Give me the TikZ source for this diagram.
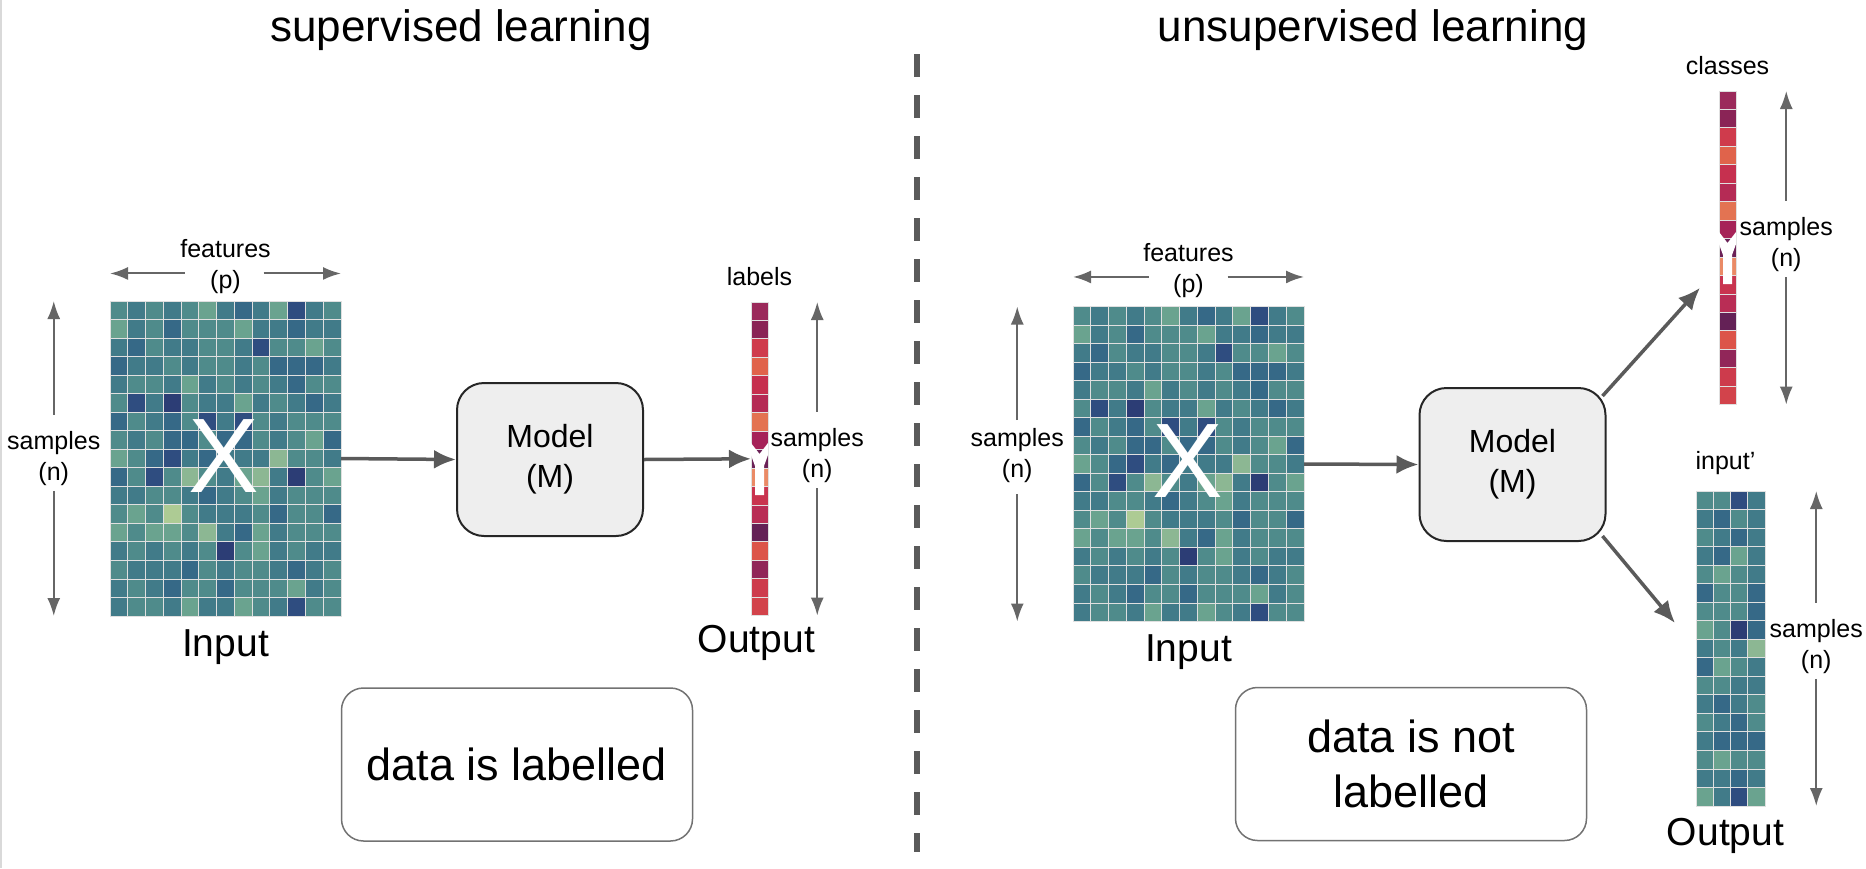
\documentclass[tikz,border=0pt]{standalone}
\usepackage{fontspec}
\setmainfont{Liberation Sans}
\usepackage{xcolor}
\usetikzlibrary{arrows.meta,positioning}

\definecolor{boxgray}{HTML}{EEEEEE}
\definecolor{edgegray}{HTML}{727272}
\definecolor{arrowgray}{HTML}{5A5A5A}
\definecolor{dimgray}{HTML}{666666}
\definecolor{heat0}{HTML}{ADCB94}
\definecolor{heat1}{HTML}{8CB793}
\definecolor{heat2}{HTML}{6AA38F}
\definecolor{heat3}{HTML}{4F8B8B}
\definecolor{heat4}{HTML}{417B89}
\definecolor{heat5}{HTML}{366987}
\definecolor{heat6}{HTML}{2F4D80}
\definecolor{heat7}{HTML}{2C3D75}

% feature matrix X (17 samples x 13 features), colour levels
\def\heatdata{{3,4,3,4,3,2,4,5,4,2,6,4,3},{2,4,3,5,3,3,3,2,4,4,5,4,4},
  {4,5,3,4,4,3,3,4,6,3,3,2,3},{5,4,4,3,4,3,3,4,3,5,5,5,4},
  {4,3,3,4,2,4,3,4,3,4,5,3,3},{3,6,4,7,3,4,4,2,4,3,4,5,4},
  {5,3,4,5,3,6,4,6,3,4,3,3,3},{3,4,3,5,5,3,5,5,3,4,3,2,5},
  {2,3,5,6,4,5,4,4,4,1,3,3,4},{5,3,6,3,1,3,4,2,1,4,7,3,2},
  {4,4,3,3,4,5,4,3,2,4,3,3,3},{3,2,3,0,3,4,4,4,3,5,3,3,5},
  {2,3,2,2,3,1,4,5,2,4,3,3,3},{4,3,4,3,4,3,7,3,2,4,3,4,4},
  {3,4,4,4,5,3,4,3,3,4,5,4,3},{4,3,4,5,3,3,5,3,3,3,2,4,3},
  {4,3,3,4,2,4,4,2,3,4,6,3,3}}
% reconstructed input' (17 samples x 4)
\def\outdata{{3,3,6,4},{4,5,3,4},{3,4,5,4},{4,5,2,4},{3,2,3,4},{5,3,3,5},
  {3,3,3,5},{2,3,7,5},{4,3,4,1},{5,2,3,4},{3,3,4,4},{4,5,4,3},{3,4,5,3},
  {4,5,5,5},{3,2,3,3},{4,4,5,4},{2,4,6,2}}
% label / class colours
\def\labcolors{9B2A5B,8A2456,CF3B4C,E0634B,C6304F,B52B55,E37352,A62358,6B2157,
  EA8A66,C9344F,B92D55,642156,DC5449,912659,CD3B4C,D2434B}

\begin{document}
\begin{tikzpicture}[
  x=1pt, y=-1pt,
  font=\fontsize{25}{31}\selectfont,
  headtxt/.style={anchor=base,inner sep=0pt,font=\fontsize{44}{50}\selectfont},
  captxt/.style={inner sep=0pt,font=\fontsize{39}{44}\selectfont},
  dimtxt/.style={inner sep=0pt,align=center},
  bigx/.style={inner sep=0pt,text=white,font=\fontsize{106}{106}\selectfont},
  gridbox/.style={inner sep=0pt,outer sep=0pt},
  modelbox/.style={draw=black!85,line width=2pt,fill=boxgray,rounded corners=27pt,
    minimum width=186pt,minimum height=153pt,align=center,font=\fontsize{32}{40}\selectfont},
  notebox/.style={draw=edgegray,line width=1.5pt,rounded corners=22pt,
    minimum width=351pt,minimum height=153pt,align=center,font=\fontsize{45}{55}\selectfont},
  hcell/.style={draw=white!88!black,line width=0.9pt},
  flow/.style={-{Latex[length=22pt,width=19pt]},line width=3.5pt,draw=arrowgray},
  dim/.style={-{Latex[length=18pt,width=13pt]},line width=2pt,draw=dimgray},
  divider/.style={draw=arrowgray,line width=6pt,dash pattern=on 23pt off 18pt}
]
\useasboundingbox (0,0) rectangle (1866,868);
\draw[gray!30,line width=2pt] (1,0) -- (1,868);

% --- Titles and divider ---
\node[headtxt] (supT) at (461,41) {supervised learning};
\node[headtxt] (unsT) at (1373,41) {unsupervised learning};
\draw[divider] (917,54) -- (917,852);

% --- Data blocks ---
\node[gridbox,minimum width=231pt,minimum height=315pt] (inL) at (225.5,458.5) {};
\node[gridbox,minimum width=231pt,minimum height=315pt] (inR) at (1188.5,464) {};
\node[gridbox,minimum width=17pt,minimum height=313.6pt] (labL) at (759.5,458.8) {};
\node[gridbox,minimum width=17pt,minimum height=313.6pt] (clsR) at (1727.5,247.8) {};
\node[gridbox,minimum width=69pt,minimum height=315pt] (outR) at (1730.5,648.5) {};

\foreach \hm in {inL,inR}{
  \begin{scope}[shift={(\hm.north west)}]
    \foreach \row [count=\r from 0] in \heatdata
      \foreach \v [count=\c from 0] in \row
        \filldraw[fill=heat\v,hcell] (\c*17.77,\r*18.53) rectangle ++(17.77,18.53);
  \end{scope}
}
\begin{scope}[shift={(outR.north west)}]
  \foreach \row [count=\r from 0] in \outdata
    \foreach \v [count=\c from 0] in \row
      \filldraw[fill=heat\v,hcell] (\c*17.25,\r*18.53) rectangle ++(17.25,18.53);
\end{scope}
\foreach \col in {labL,clsR}{
  \begin{scope}[shift={(\col.north west)}]
    \foreach \hex [count=\i from 0] in \labcolors {
      \definecolor{labc}{HTML}{\hex}
      \filldraw[fill=labc,hcell] (0,\i*18.45) rectangle ++(17,18.45);
    }
    % notch in the strip
    \fill[white] (0,141) -- (8.5,152) -- (17,141) -- (17,153) -- (13,164)
      -- (13,193) -- (4,193) -- (4,164) -- (0,153) -- cycle;
  \end{scope}
}

\node[bigx] (xL) at (224,456) {X};
\node[bigx] (xR) at (1187.5,461) {X};

% --- Captions ---
\node[captxt,below=13pt of inL] (inLcap) {Input};
\node[captxt,below=13pt of inR] (inRcap) {Input};
\node[captxt,below=9pt of labL,xshift=-3pt] (labLcap) {Output};
\node[captxt,below=12pt of outR,xshift=-5pt] (outRcap) {Output};
\node[dimtxt,above=16pt of labL] (labT) {labels};
\node[dimtxt,above=16pt of clsR] (clsT) {classes};
\node[dimtxt,above=16pt of outR,xshift=-5pt] (outT) {input’};

% --- Dimension arrows ---
\node[dimtxt,above=6.7pt of inL] (featL) {features\\(p)};
\node[dimtxt,above=9pt of inR] (featR) {features\\(p)};
\coordinate (fL) at ([yshift=-6.5pt]featL.center);
\coordinate (fR) at ([yshift=-6.8pt]featR.center);
\draw[dim] ([xshift=-41pt]fL) -- (fL -| inL.west);
\draw[dim] ([xshift=38pt]fL) -- (fL -| inL.east);
\draw[dim] ([xshift=-40pt]fR) -- (fR -| inR.west);
\draw[dim] ([xshift=39pt]fR) -- (fR -| inR.east);

\node[dimtxt,left=9.5pt of inL] (smpL) {samples\\(n)};
\node[dimtxt,left=9pt of inR,yshift=8.6pt] (smpR) {samples\\(n)};
\node[dimtxt,right=2.5pt of labL,yshift=3pt] (smpLab) {samples\\(n)};
\node[dimtxt,right=3.5pt of clsR,yshift=3pt] (smpCls) {samples\\(n)};
\node[dimtxt,right=4.5pt of outR,yshift=2pt] (smpOut) {samples\\(n)};

\foreach \sm/\blk in {smpL/inL,smpLab/labL,smpCls/clsR,smpOut/outR}{
  \draw[dim] ([yshift=16.5pt]\sm.north) -- (\sm |- \blk.north);
  \draw[dim] ([yshift=-5pt]\sm.south) -- (\sm |- \blk.south);
}
\draw[dim] ([yshift=8pt]smpR.north) -- (smpR |- inR.north);
\draw[dim] ([yshift=-11.5pt]smpR.south) -- (smpR |- inR.south);

% --- Models and flows ---
\node[modelbox] (modL) at (550,459.5) {Model\\(M)};
\node[modelbox] (modR) at (1512.5,464.5) {Model\\(M)};

\draw[flow] (inL.east) -- (modL.west);
\draw[flow] (modL.east) -- (labL.west);
\draw[flow] (inR.east) -- (modR.west);
\draw[flow] ([shift={(-4,9)}]modR.north east) -- ([shift={(-19,40)}]clsR.west);
\draw[flow] ([shift={(-4,-6)}]modR.south east) -- ([shift={(-21,-25.5)}]outR.west);

% --- Notes ---
\node[notebox] (noteL) at (517,764.5) {data is labelled};
\node[notebox] (noteR) at (1411,764) {data is not\\labelled};
\end{tikzpicture}
\end{document}
